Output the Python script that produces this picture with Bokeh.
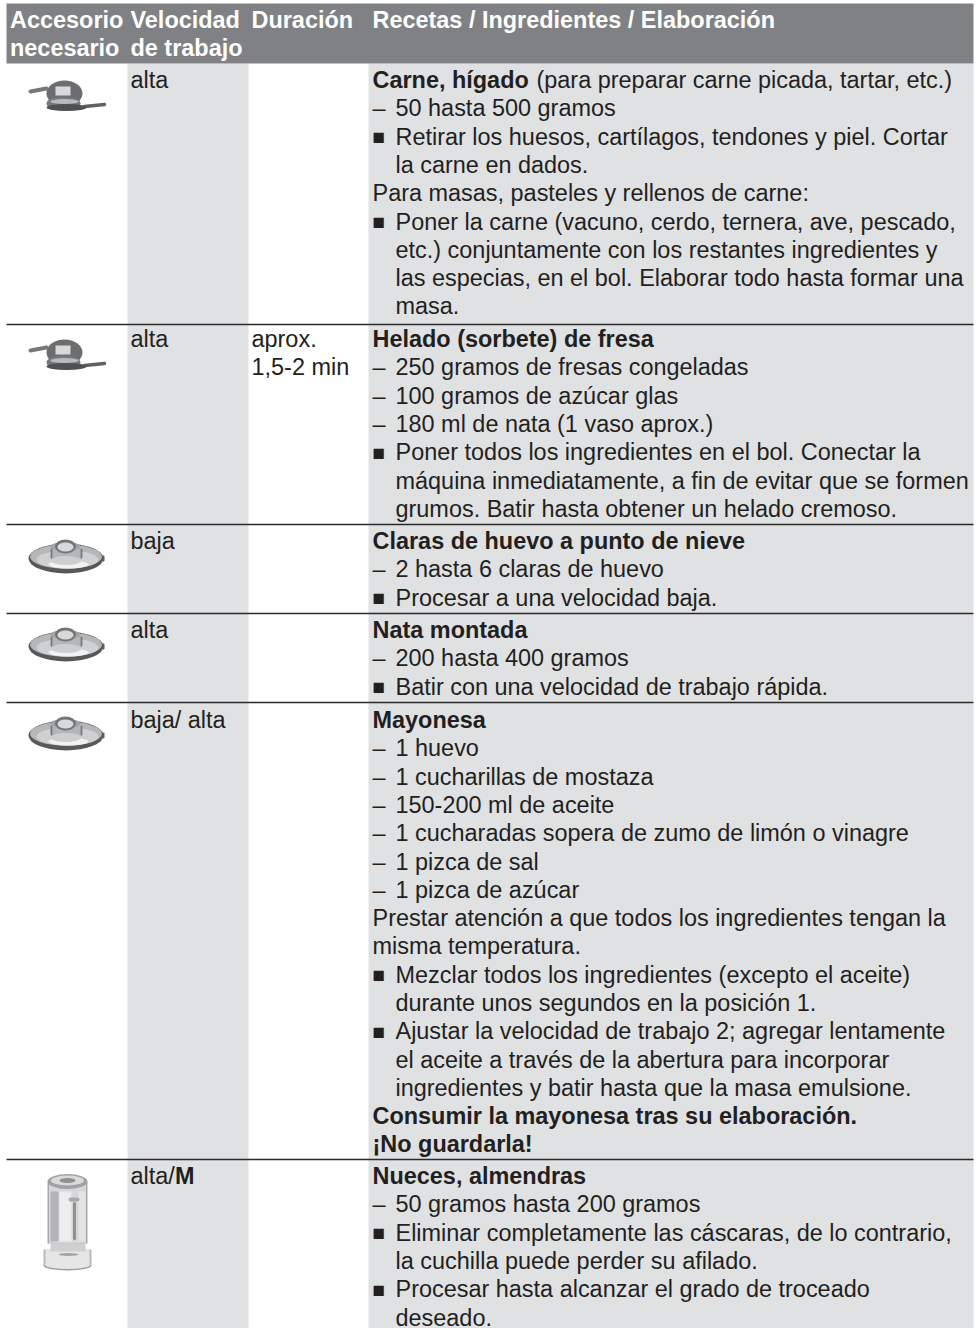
from bokeh.plotting import figure
from bokeh.embed import file_html
from bokeh.resources import INLINE
from bokeh.core.properties import value

# ---- table content -------------------------------------------------
col_edges = [6, 127, 248, 368, 973]
col_text_x = [9.5, 130, 251, 372]
header_col1 = ["Accesorio", "necesario"]
header_col2 = ["Velocidad", "de trabajo"]
header_col3 = ["Duración"]
header_col4 = ["Recetas / Ingredientes / Elaboración"]

row_rules = [324, 524, 613, 702, 1159]
row_first_baseline = [88, 347, 549, 638, 728, 1184]
speed = ["alta", "alta", "baja", "alta", "baja/ alta", "alta/"]
duration = {1: ["aprox.", "1,5-2 min"]}
kind = ["blade", "blade", "disc", "disc", "disc", "jar"]

# each line: (style, text)  b=bold, n=plain, d=dash, s=square bullet, c=continuation
recipes = [
    [("b", "Carne, hígado"), ("d", "50 hasta 500 gramos"),
     ("s", "Retirar los huesos, cartílagos, tendones y piel. Cortar"), ("c", "la carne en dados."),
     ("n", "Para masas, pasteles y rellenos de carne:"),
     ("s", "Poner la carne (vacuno, cerdo, ternera, ave, pescado,"),
     ("c", "etc.) conjuntamente con los restantes ingredientes y"),
     ("c", "las especias, en el bol. Elaborar todo hasta formar una"), ("c", "masa.")],
    [("b", "Helado (sorbete) de fresa"), ("d", "250 gramos de fresas congeladas"),
     ("d", "100 gramos de azúcar glas"), ("d", "180 ml de nata (1 vaso aprox.)"),
     ("s", "Poner todos los ingredientes en el bol. Conectar la"),
     ("c", "máquina inmediatamente, a fin de evitar que se formen"),
     ("c", "grumos. Batir hasta obtener un helado cremoso.")],
    [("b", "Claras de huevo a punto de nieve"), ("d", "2 hasta 6 claras de huevo"),
     ("s", "Procesar a una velocidad baja.")],
    [("b", "Nata montada"), ("d", "200 hasta 400 gramos"),
     ("s", "Batir con una velocidad de trabajo rápida.")],
    [("b", "Mayonesa"), ("d", "1 huevo"), ("d", "1 cucharillas de mostaza"),
     ("d", "150-200 ml de aceite"), ("d", "1 cucharadas sopera de zumo de limón o vinagre"),
     ("d", "1 pizca de sal"), ("d", "1 pizca de azúcar"),
     ("n", "Prestar atención a que todos los ingredientes tengan la"), ("n", "misma temperatura."),
     ("s", "Mezclar todos los ingredientes (excepto el aceite)"),
     ("c", "durante unos segundos en la posición 1."),
     ("s", "Ajustar la velocidad de trabajo 2; agregar lentamente"),
     ("c", "el aceite a través de la abertura para incorporar"),
     ("c", "ingredientes y batir hasta que la masa emulsione."),
     ("b", "Consumir la mayonesa tras su elaboración."), ("b", "¡No guardarla!")],
    [("b", "Nueces, almendras"), ("d", "50 gramos hasta 200 gramos"),
     ("s", "Eliminar completamente las cáscaras, de lo contrario,"),
     ("c", "la cuchilla puede perder su afilado."),
     ("s", "Procesar hasta alcanzar el grado de troceado"), ("c", "deseado.")],
]
inline_suffix = {(0, 0): "(para preparar carne picada, tartar, etc.)"}

# ---- styling --------------------------------------------------------
HEAD = "#808184"
BAND = "#e0e1e3"
INK = "#231f20"
FONT = value("Liberation Sans")
SIZE = "23.45px"
LEAD = 28.28
INDENT = 395
BASE_DY = -8.3

p = figure(width=979, height=1328, x_range=(0, 979), y_range=(1328, 0),
           output_backend="svg", toolbar_location=None, min_border=0,
           margin=(0, 0, 0, 0), outline_line_color=None, background_fill_color="white")
p.axis.visible = False
p.grid.visible = False

# bands
p.quad(left=[col_edges[1], col_edges[3]], right=[col_edges[2], col_edges[4]],
       top=[63, 63], bottom=[1328, 1328], fill_color=BAND, line_color=None)
p.quad(left=[col_edges[0]], right=[col_edges[4]], top=[3], bottom=[63],
       fill_color=HEAD, line_color=None)
p.segment(x0=[col_edges[0]] * len(row_rules), x1=[col_edges[4]] * len(row_rules),
          y0=row_rules, y1=row_rules, line_color="#2a2a2a", line_width=1.4)


def put(x, y, t, bold=False, color=INK, size=SIZE):
    p.text(x=[x], y=[y + BASE_DY], text=[t], text_font=FONT, text_font_size=size, text_color=color,
           text_font_style="bold" if bold else "normal", text_baseline="alphabetic")


# header
for cx, lines in zip(col_text_x, [header_col1, header_col2, header_col3, header_col4]):
    for i, t in enumerate(lines):
        put(cx, 27.6 + i * 28.2, t, bold=True, color="white")

# rows
for r, lines in enumerate(recipes):
    y0 = row_first_baseline[r]
    put(col_text_x[1], y0, speed[r])
    if speed[r].endswith("/"):
        put(174.5, y0, "M", bold=True)
    for i, t in enumerate(duration.get(r, [])):
        put(col_text_x[2], y0 + i * LEAD, t)
    for i, (style, t) in enumerate(lines):
        y = y0 + i * LEAD
        if style == "b":
            put(col_text_x[3], y, t, bold=True)
        elif style == "n":
            put(col_text_x[3], y, t)
        elif style == "d":
            put(col_text_x[3], y, "–")
            put(INDENT, y, t)
        elif style == "s":
            put(col_text_x[3], y, "■", size="21px")
            put(INDENT, y, t)
        else:
            put(INDENT, y, t)
        if (r, i) in inline_suffix:
            put(536, y, inline_suffix[(r, i)])


# ---- small accessory pictograms --------------------------------------
def oval(x, y, w, h, fill, line=None, lw=1.0, alpha=1.0):
    p.ellipse([x], [y], width=w, height=h, fill_color=fill, line_color=line, line_width=lw,
              fill_alpha=alpha)


def box(l, r, t, b, fill):
    p.quad([l], [r], [t], [b], fill_color=fill, line_color=None)


def bar(x0, y0, x1, y1, color, w):
    p.segment([x0], [y0], [x1], [y1], line_color=color, line_width=w, line_cap="round")


def disc(cx, cy):
    oval(cx - 0.5, cy, 75, 30, "#57585a")
    oval(cx - 0.5, cy - 1.8, 72, 24, "#b6b7b9")
    oval(cx + 1, cy + 1, 62, 18, "#cfd0d1")
    oval(cx + 2, cy + 6, 40, 8, "#f1f1f2")
    box(cx - 15, cx + 15, cy - 12, cy + 1, "#b4b5b7")
    oval(cx - 0.5, cy + 2, 30, 9, "#cdced0")
    oval(cx - 1, cy - 12, 30, 9, "#a3a4a6")
    oval(cx - 1, cy - 12, 21, 14, "#747577")
    oval(cx - 1, cy - 11.5, 16, 9, "#d8d9da")
    bar(cx - 15, cy - 9, cx - 15, cy - 1, "#77787a", 1.8)
    bar(cx + 15, cy - 9, cx + 15, cy - 1, "#77787a", 1.8)
    bar(cx + 37, cy - 2, cx + 37, cy + 2, "#5e5f61", 2)


def blade(cx, cy):
    bar(cx - 36, cy - 4, cx - 20, cy - 7, "#77787a", 4)
    bar(cx + 18, cy + 11, cx + 38, cy + 9, "#5f6062", 3.5)
    oval(cx - 2, cy - 2, 36, 26, "#6c6d6f")
    oval(cx - 3, cy + 8, 34, 14, "#77787a")
    oval(cx, cy + 12, 40, 7, "#4f5052")
    oval(cx - 2, cy + 6, 28, 5, "#b9babc")
    box(cx - 11, cx + 4, cy - 9, cy + 0, "#d9dadb")


def jar(cx, cy):
    # base
    oval(cx, cy + 44, 48, 10, "#9b9c9e")
    box(cx - 24, cx + 24, cy + 28, cy + 44, "#b9babc")
    oval(cx, cy + 43.5, 45, 8, "#e6e6e7")
    box(cx - 22, cx + 22, cy + 28, cy + 43, "#e6e6e7")
    box(cx - 17, cx + 18, cy + 18, cy + 30, "#cfd0d1")
    oval(cx + 1, cy + 33, 20, 3, "#a2a3a5")
    # body
    box(cx - 20, cx + 20, cy - 39, cy + 22, "#a8a9ab")
    box(cx - 18.5, cx + 18.5, cy - 39, cy + 22, "#d6d7d8")
    box(cx - 17, cx - 9, cy - 30, cy + 20, "#b3b4b6")
    box(cx - 8, cx + 4, cy - 30, cy + 20, "#ededee")
    box(cx + 11, cx + 18, cy - 30, cy + 20, "#e4e4e5")
    bar(cx + 7, cy - 18, cx + 7, cy + 17, "#8f9092", 3)
    bar(cx + 3, cy - 22, cx + 10, cy - 22, "#a8a9ab", 4)
    # lid
    oval(cx, cy - 40, 40, 15, "#a0a1a3")
    oval(cx, cy - 41, 33, 10, "#d8d9da")
    oval(cx, cy - 41, 16, 5, "#8f9092")


icon_center = [(66, 95), (66, 354), (66, 558), (66, 646), (66, 735), (67, 1221)]
for (cx, cy), k in zip(icon_center, kind):
    {"blade": blade, "disc": disc, "jar": jar}[k](cx, cy)

open("out.html", "w").write(file_html(p, INLINE))
